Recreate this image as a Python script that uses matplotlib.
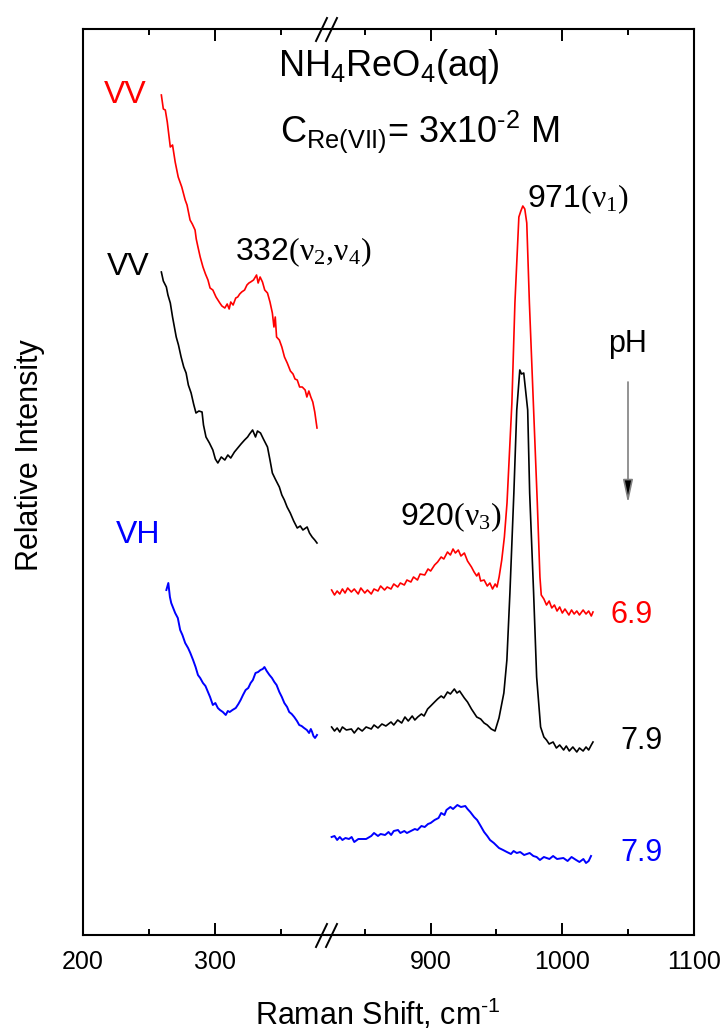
import numpy as np
import matplotlib.pyplot as plt
from matplotlib.lines import Line2D

# Raman spectra of NH4ReO4(aq)
# low frequency part (VV red, VV black, VH blue)
x_vv69_low = [259.5, 261, 262.5, 264, 266.3, 268, 270, 272.3, 275, 277.6, 279, 281.3, 283, 285.1, 286,
              287.3, 289, 291.1, 293, 294.9, 296.5, 298.6, 301, 303.9, 305.5, 307.7, 309.5, 311, 312.2,
              314, 316, 317.5, 319, 320.5, 322.7, 324.5, 326, 327.3, 329.5, 331.8, 333, 334.5, 336.3,
              338, 340.1, 342, 343.8, 345, 346, 347, 349.1, 351, 353, 355.1, 357.5, 359.5, 361, 362.7,
              364.5, 366.5, 368.7, 370, 371.5, 373, 374.5, 376, 377.7]
y_vv69_low = [862, 848, 847, 835, 810, 812, 795, 780, 770, 757, 752, 737, 733, 727, 718,
              710, 700, 690, 683, 677, 669, 667, 660, 654, 651, 649, 653, 648, 655,
              652, 659, 660, 663, 665, 667, 672, 674, 675, 677, 682, 674, 680, 675,
              667, 664, 655, 644, 630, 640, 620, 617, 610, 600, 594, 586, 583, 578, 577,
              570, 570, 567, 560, 566, 560, 555, 545, 529]

x_vv79_low = [259.5, 261, 263.3, 264.5, 266.3, 268, 270.8, 272.5, 274.5, 276.5, 278.3, 280, 282.1, 284,
              285.8, 288, 290.4, 291.5, 293.4, 296, 298.6, 300.5, 302.4, 305, 307.7, 310, 312.2, 315,
              317.5, 320, 322.7, 325, 326.5, 328.8, 331, 332.5, 334.8, 337, 340.1, 342, 343.8, 346,
              349.1, 351, 352.9, 355, 357.4, 360, 362.7, 365, 367, 370.2, 372, 374, 376, 377.7]
y_vv79_low = [685, 676, 670, 662, 654, 640, 620, 612, 600, 590, 584, 572, 564, 553,
              544, 546, 545, 532, 520, 514, 507, 498, 494, 500, 497, 502, 499, 505,
              509, 513, 517, 520, 523, 527, 520, 526, 524, 518, 510, 497, 484, 478,
              470, 462, 457, 450, 444, 436, 429, 431, 427, 430, 424, 420, 417, 414]

x_vh79_low = [263.3, 264.8, 266, 267, 268.5, 270, 272, 273.8, 275.5, 277.6, 279.8, 281.5, 283.6, 285.5,
              287.3, 289, 291.1, 293, 294.9, 296.5, 298.6, 300.5, 302.4, 304, 306.2, 308.4, 310, 311.4,
              313.5, 316, 318, 319.7, 321.5, 323.5, 325.5, 327.3, 329, 331, 333, 334.8, 336.5, 337.8,
              339.5, 341.6, 343.5, 345.3, 347, 349.1, 351, 352.9, 355, 356.6, 358.5, 360.4, 362.5,
              364.2, 366, 367.9, 370, 371.7, 373, 374, 375, 376.2, 377.7]
y_vh79_low = [367, 374, 360, 354, 349, 344, 339, 327, 322, 314, 309, 304, 297, 290,
              282, 279, 274, 271, 265, 260, 252, 254, 249, 247, 245, 242, 246, 245,
              247, 249, 253, 257, 262, 267, 269, 274, 277, 284, 285, 287, 288, 290,
              286, 282, 279, 275, 272, 265, 260, 254, 250, 245, 243, 240, 236,
              232, 231, 229, 227, 224, 228, 225, 221, 219, 222]

# high frequency part
x_vv69_high = [824.8, 827, 829, 831, 833, 835, 837, 839.8, 842, 845, 847, 850, 852, 854.9, 857, 860, 862,
               865, 867, 869.9, 872, 875, 877, 880, 882, 885, 887, 890, 892, 895.5, 898, 900, 903, 905.3,
               908, 910, 912.8, 915, 917, 918.8, 921, 923, 925.6, 928, 931, 933, 935, 936.5, 938, 940.6,
               943, 945, 947, 949, 950.4, 952, 954, 956, 958, 961.7, 964, 967, 968.5, 970, 971.5, 973,
               975, 978, 981, 983, 984, 986, 988, 990, 992, 994, 996, 998, 1000, 1002, 1005, 1007, 1009,
               1011, 1013, 1015.8, 1018, 1020, 1022, 1023.3]
y_vv69_high = [367, 362, 366, 363, 368, 364, 369, 365, 368, 363, 369, 364, 367, 363, 368, 366, 371,
               367, 370, 368, 373, 370, 374, 372, 377, 375, 380, 377, 383, 382, 388, 386, 392, 395,
               400, 398, 405, 402, 408, 404, 407, 401, 404, 396, 390, 385, 381, 384, 376, 377,
               371, 374, 368, 373, 370, 380, 397, 420, 454, 554, 654, 740, 746, 751, 748, 734,
               654, 554, 454, 380, 362, 358, 352, 356, 349, 352, 346, 350, 344, 348, 342, 347, 343,
               346, 342, 347, 343, 346, 341, 345]

x_vv79_high = [824.8, 827, 829, 831, 833, 836, 839.8, 842, 845, 848, 851, 854.9, 857, 860, 863, 866,
               869.9, 872, 875, 878, 880.5, 883, 886, 888, 890.2, 893, 895, 897.7, 900, 903, 905.3, 908,
               910, 912.8, 915, 918, 920, 922, 925.6, 928, 931, 933, 935, 938, 940.6, 943, 946, 948.9,
               951.9, 955.6, 957.9, 960.2, 963.2, 965.4, 967.7, 969, 970.7, 973.7, 975.2, 978.2, 980.5,
               983.5, 986, 988, 990, 993, 995.5, 998, 1001, 1003, 1005.3, 1008, 1011, 1013, 1015.8, 1018,
               1020, 1022, 1023.3]
y_vv79_high = [230, 226, 229, 225, 230, 227, 228, 224, 229, 226, 230, 228, 232, 229, 233, 231,
               235, 232, 237, 234, 240, 236, 241, 237, 240, 243, 241, 248, 251, 255, 258, 261,
               259, 265, 263, 268, 264, 266, 259, 255, 248, 244, 240, 238, 234, 232, 228, 226,
               239, 264, 297, 364, 464, 547, 587, 583, 584, 547, 464, 364, 280,
               230, 220, 217, 213, 215, 209, 212, 207, 211, 206, 210, 205, 209, 206, 210,
               207, 212, 215]

x_vh79_high = [824.8, 827, 829, 831, 833, 835.3, 838, 840, 842, 845.1, 848, 851, 854.9, 857, 860, 862,
               865.4, 868, 870, 872, 875.2, 877, 880, 882, 885, 888, 890, 893, 895.5, 898, 900, 903,
               906, 908, 910.5, 912, 915, 917, 920.3, 923, 926.3, 928, 930.1, 933, 935.3, 938, 940.6,
               943, 945.1, 948, 951.9, 955, 957.9, 961, 963, 965.4, 968, 971, 975.2, 978, 980.5, 983,
               986, 990.2, 993, 996, 1000.8, 1004, 1007, 1010.5, 1013, 1016, 1018, 1020, 1021.8]
y_vh79_high = [120, 121, 117, 120, 117, 119, 118, 120, 115, 118, 118, 118, 121, 124, 121, 123,
               122, 125, 122, 126, 127, 124, 126, 124, 126, 128, 127, 131, 130, 133, 134, 137,
               139, 144, 142, 147, 150, 148, 152, 150, 151, 148, 145, 140, 137, 131, 125,
               121, 117, 114, 109, 107, 105, 103, 106, 104, 105, 102, 104, 101, 100, 97,
               100, 98, 101, 98, 99, 96, 100, 97, 95, 98, 94, 96, 101]

x_left = (200, 385)
x_right = (821, 1100)
W, H = 728, 1034


def fpx(x, y):
    # pixel position -> figure fraction
    return x / W, 1 - y / H


plt.rcParams['font.family'] = 'Liberation Sans'
plt.rcParams['mathtext.fontset'] = 'custom'
plt.rcParams['mathtext.rm'] = 'Liberation Sans'
plt.rcParams['mathtext.it'] = 'Liberation Sans:italic'
plt.rcParams['mathtext.cal'] = 'Liberation Serif'

fig = plt.figure(figsize=(W / 100, H / 100), dpi=100)
gs = fig.add_gridspec(1, 2, width_ratios=[x_left[1] - x_left[0], x_right[1] - x_right[0]],
                      wspace=0, left=83 / W, right=694 / W, bottom=1 - 935 / H, top=1 - 29 / H)
axl = fig.add_subplot(gs[0])
axr = fig.add_subplot(gs[1])

axl.plot(x_vv69_low, y_vv69_low, color='red', lw=1.2)
axl.plot(x_vv79_low, y_vv79_low, color='black', lw=1.2)
axl.plot(x_vh79_low, y_vh79_low, color='blue', lw=1.4)
axr.plot(x_vv69_high, y_vv69_high, color='red', lw=1.2)
axr.plot(x_vv79_high, y_vv79_high, color='black', lw=1.2)
axr.plot(x_vh79_high, y_vh79_high, color='blue', lw=1.4)

axl.set_xlim(*x_left)
axr.set_xlim(*x_right)
for ax in (axl, axr):
    ax.set_ylim(22, 928)
    ax.set_yticks([])
    for s in ax.spines.values():
        s.set_linewidth(1.5)
    ax.tick_params(axis='x', which='both', direction='in', top=True, width=1.4, labelsize=18, pad=11)
    ax.tick_params(axis='x', which='major', length=8.5)
    ax.tick_params(axis='x', which='minor', length=4.3)
axl.spines['right'].set_visible(False)
axr.spines['left'].set_visible(False)
axl.set_xticks([200, 300])
axl.set_xticks([250, 350], minor=True)
axr.set_xticks([900, 1000, 1100])
axr.set_xticks([850, 950, 1050], minor=True)

# axis break marks
for yc in (29, 935):
    for xc in (321.5, 331.5):
        x0, y0 = fpx(xc - 5.5, yc + 12)
        x1, y1 = fpx(xc + 5.5, yc - 11)
        fig.add_artist(Line2D([x0, x1], [y0, y1], color='black', lw=1.4))

fig.text(*fpx(378, 1025), 'Raman Shift, cm$^{\u2010 1}$', fontsize=22, ha='center', va='baseline')
fig.text(*fpx(30, 455), 'Relative Intensity', fontsize=22, rotation=90, ha='center', va='center')

fig.text(*fpx(278, 76), r'NH$_4$ReO$_4$(aq)', fontsize=26, va='baseline')
fig.text(*fpx(280, 142), 'C$_{\\mathrm{Re(VII)}}$= 3x10$^{\u2010 2}$ M', fontsize=26, va='baseline')
fig.text(*fpx(104, 103), 'VV', fontsize=23, color='red', va='baseline')
fig.text(*fpx(107, 275), 'VV', fontsize=23, color='black', va='baseline')
fig.text(*fpx(116, 543), 'VH', fontsize=23, color='blue', va='baseline')
fig.text(*fpx(235, 260), r'332$\mathcal{(\nu_2{,}\nu_4)}$', fontsize=23, va='baseline')
fig.text(*fpx(527, 207), r'971$\mathcal{(\nu_1)}$', fontsize=23, va='baseline')
fig.text(*fpx(400, 525), r'920$\mathcal{(\nu_3)}$', fontsize=23, va='baseline')
fig.text(*fpx(628, 352), 'pH', fontsize=22, ha='center', va='baseline')
fig.text(*fpx(610, 623), '6.9', fontsize=22, color='red', va='baseline')
fig.text(*fpx(620, 749), '7.9', fontsize=22, color='black', va='baseline')
fig.text(*fpx(620, 861), '7.9', fontsize=22, color='blue', va='baseline')

axr.annotate('', xy=fpx(628, 503), xycoords='figure fraction', xytext=fpx(628, 382),
             textcoords='figure fraction',
             arrowprops=dict(arrowstyle='-|>,head_length=0.7,head_width=0.15', mutation_scale=20,
                             ec='gray', fc='black', lw=1.2, shrinkA=0, shrinkB=0))

fig.savefig('out.png', dpi=100)
